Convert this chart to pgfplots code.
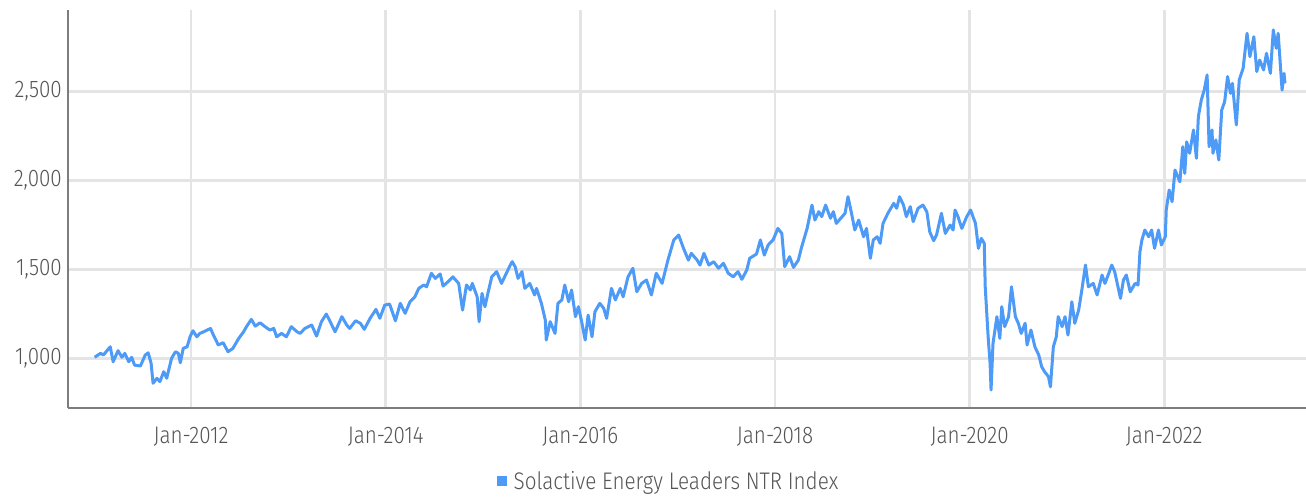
\documentclass[border=0pt]{standalone}
\usepackage{pgfplots}
\pgfplotsset{compat=1.18}
\usepackage{pgfplotstable}
\usepackage{fontspec}
\setmainfont{Fira Sans Light}[FakeStretch=0.86]
\definecolor{lineblue}{RGB}{77,154,247}
\definecolor{gridgray}{RGB}{228,228,228}
\definecolor{axisgray}{RGB}{125,125,125}
\definecolor{txtgray}{RGB}{85,85,85}
\pgfplotstableread{
x y
2011.01 1006
2011.07 1028
2011.10 1019
2011.17 1065
2011.20 981
2011.25 1043
2011.29 1006
2011.32 1028
2011.36 981
2011.39 1006
2011.42 962
2011.48 957
2011.53 1019
2011.56 1031
2011.59 972
2011.61 860
2011.65 888
2011.68 869
2011.72 925
2011.75 888
2011.80 1000
2011.84 1037
2011.87 1028
2011.89 975
2011.92 1056
2011.96 1065
2011.99 1121
2012.02 1155
2012.06 1121
2012.09 1140
2012.13 1149
2012.20 1168
2012.23 1131
2012.28 1075
2012.33 1088
2012.38 1037
2012.43 1056
2012.49 1112
2012.54 1149
2012.57 1178
2012.62 1219
2012.66 1181
2012.71 1200
2012.76 1178
2012.81 1159
2012.85 1168
2012.88 1121
2012.93 1140
2012.98 1121
2013.03 1178
2013.09 1149
2013.12 1140
2013.17 1168
2013.24 1187
2013.29 1125
2013.34 1206
2013.39 1249
2013.43 1206
2013.48 1149
2013.55 1234
2013.60 1187
2013.63 1168
2013.69 1211
2013.74 1197
2013.78 1163
2013.84 1225
2013.90 1275
2013.94 1225
2013.99 1299
2014.04 1305
2014.10 1211
2014.15 1309
2014.20 1253
2014.25 1318
2014.30 1346
2014.34 1393
2014.39 1412
2014.42 1402
2014.47 1478
2014.51 1449
2014.56 1474
2014.59 1406
2014.64 1430
2014.69 1458
2014.75 1421
2014.79 1271
2014.83 1412
2014.87 1384
2014.89 1421
2014.94 1346
2014.96 1206
2014.99 1365
2015.02 1290
2015.05 1365
2015.09 1458
2015.14 1487
2015.19 1421
2015.24 1478
2015.28 1524
2015.30 1543
2015.33 1515
2015.36 1449
2015.40 1487
2015.43 1393
2015.48 1421
2015.53 1356
2015.55 1393
2015.60 1309
2015.64 1215
2015.65 1103
2015.69 1206
2015.74 1140
2015.77 1309
2015.81 1328
2015.84 1412
2015.88 1318
2015.91 1384
2015.95 1234
2015.98 1290
2016.01 1215
2016.05 1103
2016.08 1243
2016.12 1121
2016.15 1262
2016.20 1309
2016.24 1281
2016.27 1225
2016.32 1393
2016.36 1328
2016.41 1393
2016.44 1346
2016.49 1458
2016.54 1506
2016.58 1374
2016.63 1421
2016.68 1440
2016.73 1356
2016.78 1478
2016.84 1421
2016.87 1487
2016.90 1552
2016.96 1665
2017.01 1693
2017.06 1618
2017.11 1552
2017.14 1590
2017.20 1552
2017.23 1524
2017.27 1590
2017.32 1524
2017.37 1543
2017.42 1506
2017.47 1534
2017.52 1478
2017.57 1458
2017.62 1487
2017.66 1444
2017.71 1496
2017.74 1562
2017.81 1586
2017.85 1665
2017.89 1580
2017.93 1637
2017.98 1665
2018.03 1730
2018.07 1702
2018.10 1515
2018.15 1571
2018.19 1511
2018.24 1552
2018.27 1618
2018.33 1730
2018.38 1861
2018.41 1777
2018.45 1824
2018.48 1796
2018.52 1861
2018.57 1787
2018.60 1824
2018.63 1758
2018.69 1796
2018.72 1815
2018.75 1908
2018.79 1805
2018.82 1721
2018.86 1777
2018.91 1683
2018.94 1730
2018.98 1562
2019.01 1665
2019.05 1683
2019.08 1646
2019.11 1758
2019.16 1815
2019.22 1871
2019.25 1843
2019.28 1908
2019.32 1861
2019.35 1796
2019.39 1852
2019.42 1768
2019.47 1843
2019.52 1861
2019.56 1824
2019.59 1711
2019.63 1661
2019.66 1693
2019.71 1815
2019.75 1702
2019.80 1749
2019.83 1721
2019.85 1833
2019.88 1796
2019.92 1730
2019.97 1796
2020.01 1833
2020.06 1758
2020.09 1618
2020.12 1674
2020.15 1646
2020.16 1402
2020.19 1121
2020.21 972
2020.22 822
2020.24 1084
2020.28 1234
2020.31 1112
2020.33 1290
2020.36 1178
2020.40 1234
2020.43 1402
2020.47 1234
2020.50 1197
2020.53 1140
2020.57 1197
2020.59 1075
2020.63 1159
2020.67 1065
2020.71 1019
2020.74 953
2020.77 925
2020.81 897
2020.83 840
2020.86 1065
2020.89 1121
2020.91 1234
2020.95 1178
2020.98 1234
2021.01 1131
2021.05 1318
2021.08 1197
2021.12 1271
2021.15 1374
2021.19 1524
2021.22 1402
2021.27 1421
2021.31 1356
2021.36 1468
2021.39 1421
2021.43 1478
2021.46 1524
2021.49 1487
2021.55 1337
2021.58 1440
2021.61 1468
2021.65 1374
2021.70 1421
2021.73 1412
2021.75 1600
2021.77 1665
2021.80 1721
2021.84 1683
2021.87 1721
2021.90 1618
2021.94 1721
2021.97 1637
2022.01 1683
2022.02 1833
2022.05 1946
2022.08 1880
2022.11 2058
2022.16 1992
2022.19 2189
2022.21 2039
2022.23 2216
2022.26 2152
2022.30 2283
2022.33 2124
2022.35 2358
2022.38 2451
2022.41 2507
2022.44 2592
2022.46 2189
2022.49 2283
2022.50 2152
2022.53 2227
2022.56 2114
2022.59 2395
2022.62 2442
2022.65 2583
2022.68 2489
2022.70 2545
2022.74 2311
2022.77 2564
2022.81 2630
2022.85 2826
2022.88 2695
2022.92 2807
2022.95 2611
2022.98 2676
2023.02 2620
2023.05 2714
2023.09 2601
2023.12 2845
2023.15 2742
2023.17 2826
2023.21 2507
2023.23 2601
2023.24 2545
}\datatable
\begin{document}
\begin{tikzpicture}
\begin{axis}[
  at={(68pt,88pt)}, anchor=south west,
  scale only axis, width=1238pt, height=398pt,
  xmin=2010.736, xmax=2023.456, ymin=721, ymax=2957,
  axis x line*=bottom, axis y line*=left,
  axis line style={axisgray, line width=2pt},
  xtick={2012,2014,2016,2018,2020,2022},
  xticklabels={Jan-2012,Jan-2014,Jan-2016,Jan-2018,Jan-2020,Jan-2022},
  ytick={1000,1500,2000,2500},
  /pgf/number format/1000 sep={,},
  /pgf/number format/assume math mode=true,
  major tick length=0pt,
  grid=major, major grid style={gridgray, line width=2.5pt},
  tick label style={font=\fontsize{24}{28}\selectfont, text=txtgray, inner sep=0pt},
  xticklabel style={yshift=-19pt},
  yticklabel style={xshift=-6pt},
  legend style={at={(0.485,-0.183)}, anchor=center, draw=none, fill=none,
    font=\fontsize{24}{28}\selectfont, text=txtgray, inner sep=0pt,
    /tikz/every even column/.append style={column sep=0pt}},
  legend cell align=left,
  legend image code/.code={\fill[lineblue, draw=none] (0pt,-5pt) rectangle (10pt,5pt); \path[draw=none, fill=none] (0pt,0pt) rectangle (15pt,0.1pt);},
]
\addplot[lineblue, line width=3pt, line join=round] table[x=x,y=y]{\datatable};
\addlegendentry{Solactive Energy Leaders NTR Index}
\end{axis}
\pgfresetboundingbox
\path[use as bounding box] (0,0) rectangle (1306pt,496pt);
\end{tikzpicture}
\end{document}
